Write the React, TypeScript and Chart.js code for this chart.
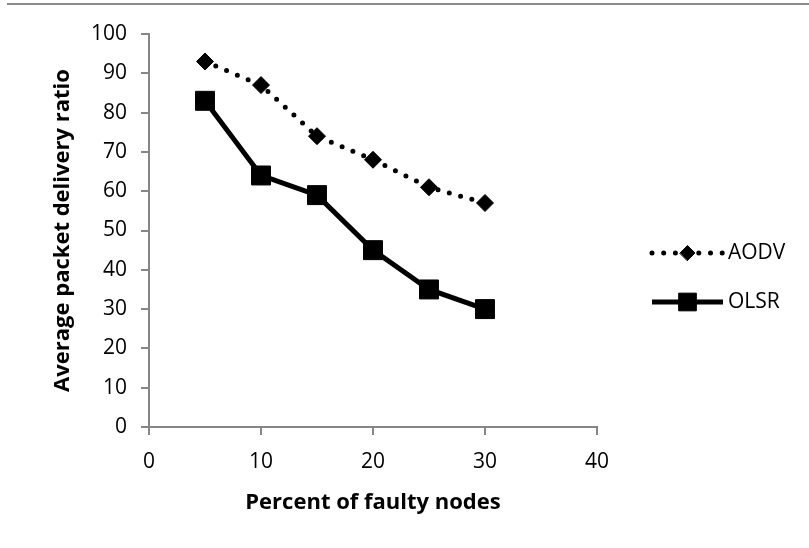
import React, { useEffect, useRef } from "react";
import { Chart, registerables } from "chart.js";

Chart.register(...registerables);

const faultyPercent = [5, 10, 15, 20, 25, 30];
const aodvValues = [93, 87, 74, 68, 61, 57];
const olsrValues = [83, 64, 59, 45, 35, 30];
const xTicks = [0, 10, 20, 30, 40];
const yTicks = [0, 10, 20, 30, 40, 50, 60, 70, 80, 90, 100];
const seriesNames = ["AODV", "OLSR"];

const FONT = "'Open Sans', 'Noto Sans', sans-serif";
const AXIS_GRAY = "#868686";
const TICK_SIZE = 21;
const TITLE_SIZE = 22;

function drawMarker(ctx: CanvasRenderingContext2D, style: string, x: number, y: number, r: number) {
  ctx.beginPath();
  if (style === "rectRot") {
    ctx.moveTo(x - r, y);
    ctx.lineTo(x, y - r);
    ctx.lineTo(x + r, y);
    ctx.lineTo(x, y + r);
  } else {
    const s = r * Math.SQRT1_2;
    ctx.rect(x - s, y - s, 2 * s, 2 * s);
  }
  ctx.closePath();
  ctx.fill();
  ctx.stroke();
}

const decorPlugin = {
  id: "decor",
  beforeDraw(chart: any) {
    const ctx = chart.ctx as CanvasRenderingContext2D;
    ctx.save();
    ctx.strokeStyle = "#8a8a8a";
    ctx.lineWidth = 2;
    ctx.beginPath();
    ctx.moveTo(7, 4);
    ctx.lineTo(chart.width, 4);
    ctx.stroke();
    ctx.restore();
  },
  afterDraw(chart: any) {
    const ctx = chart.ctx as CanvasRenderingContext2D;
    const rows = [253, 302];
    chart.data.datasets.forEach((ds: any, i: number) => {
      const y = rows[i];
      ctx.save();
      ctx.strokeStyle = "#000";
      ctx.lineWidth = ds.borderWidth;
      ctx.lineCap = ds.borderCapStyle || "butt";
      ctx.setLineDash(ds.borderDash || []);
      ctx.beginPath();
      ctx.moveTo(652, y);
      ctx.lineTo(723, y);
      ctx.stroke();
      ctx.setLineDash([]);
      ctx.fillStyle = "#000";
      ctx.lineWidth = 1;
      drawMarker(ctx, ds.pointStyle, 687.5, y, ds.legendRadius);
      ctx.font = `${TICK_SIZE}px ${FONT}`;
      ctx.textBaseline = "middle";
      ctx.textAlign = "left";
      ctx.fillText(ds.label, 728, y);
      ctx.restore();
    });
  },
};

export default function App() {
  const ref = useRef<HTMLCanvasElement | null>(null);

  useEffect(() => {
    if (!ref.current) return;
    const chart = new Chart(ref.current, {
      type: "scatter",
      data: {
        datasets: [
          {
            label: seriesNames[0],
            data: faultyPercent.map((x, i) => ({ x, y: aodvValues[i] })),
            showLine: true,
            borderColor: "#000",
            backgroundColor: "#000",
            borderWidth: 5,
            borderDash: [0, 11.7],
            borderCapStyle: "round",
            pointStyle: "rectRot",
            pointRadius: 8.5,
            pointBorderWidth: 1,
            pointBackgroundColor: "#000",
            pointBorderColor: "#000",
            legendRadius: 7.5,
          } as any,
          {
            label: seriesNames[1],
            data: faultyPercent.map((x, i) => ({ x, y: olsrValues[i] })),
            showLine: true,
            borderColor: "#000",
            backgroundColor: "#000",
            borderWidth: 5,
            borderCapStyle: "butt",
            pointStyle: "rect",
            pointRadius: 13.4,
            pointBorderWidth: 1,
            pointBackgroundColor: "#000",
            pointBorderColor: "#000",
            legendRadius: 12.5,
          } as any,
        ],
      },
      options: {
        responsive: false,
        animation: false,
        devicePixelRatio: 1,
        layout: { padding: { top: 34, right: 212, left: 0, bottom: 0 } },
        plugins: { legend: { display: false }, tooltip: { enabled: false } },
        scales: {
          x: {
            type: "linear",
            min: 0,
            max: 40,
            afterFit: (s: any) => {
              s.height = 121;
            },
            afterBuildTicks: (s: any) => {
              s.ticks = xTicks.map((v) => ({ value: v }));
            },
            grid: {
              display: true,
              drawOnChartArea: false,
              drawTicks: true,
              tickLength: 8,
              color: AXIS_GRAY,
              lineWidth: 2,
            },
            border: { display: true, color: AXIS_GRAY, width: 2 },
            ticks: { color: "#000", font: { family: FONT, size: TICK_SIZE }, padding: 14, maxRotation: 0 },
            title: {
              display: true,
              text: "Percent of faulty nodes",
              color: "#000",
              font: { family: FONT, size: TITLE_SIZE, weight: "bold" },
              padding: { top: 0, bottom: 32 },
            },
          },
          y: {
            type: "linear",
            min: 0,
            max: 100,
            afterFit: (s: any) => {
              s.width = 149;
            },
            afterBuildTicks: (s: any) => {
              s.ticks = yTicks.map((v) => ({ value: v }));
            },
            grid: {
              display: true,
              drawOnChartArea: false,
              drawTicks: true,
              tickLength: 8,
              color: AXIS_GRAY,
              lineWidth: 2,
            },
            border: { display: true, color: AXIS_GRAY, width: 2 },
            ticks: { color: "#000", font: { family: FONT, size: TICK_SIZE }, padding: 14 },
            title: {
              display: true,
              text: "Average packet delivery ratio",
              color: "#000",
              font: { family: FONT, size: TITLE_SIZE, weight: "bold" },
              padding: { top: 50, bottom: 0 },
            },
          },
        },
      },
      plugins: [decorPlugin],
    });
    return () => chart.destroy();
  }, []);

  return (
    <canvas
      ref={ref}
      width={809}
      height={548}
      style={{ position: "absolute", left: 0, top: 0, width: 809, height: 548 }}
    />
  );
}
